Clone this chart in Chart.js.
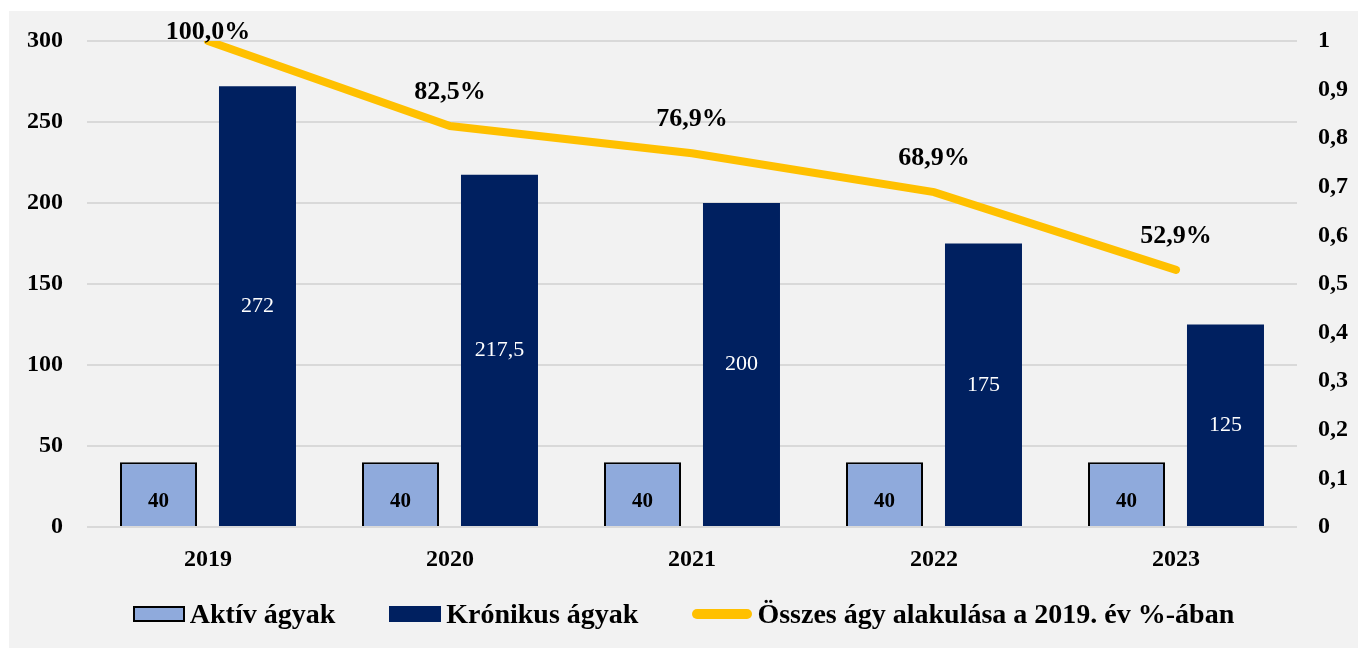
<!DOCTYPE html>
<html>
<head>
<meta charset="utf-8">
<script src="https://cdn.jsdelivr.net/npm/chart.js@4.4.1/dist/chart.umd.min.js"></script>
<style>
  body { margin: 0; background: #fff; }
  #wrap { position: absolute; left: 9px; top: 11px; width: 1349px; height: 637px; background: #f2f2f2; }
  #legend { position: absolute; left: 0; top: 587px; width: 1349px; display: flex; justify-content: center;
            font-family: 'Liberation Serif', serif; font-weight: bold; font-size: 28px; color: #000; }
  .item { display: flex; align-items: center; margin: 0 27px; }
  .sw { display: inline-block; margin-right: 5px; }
</style>
</head>
<body>
<div id="wrap">
  <canvas id="chart" width="1349" height="637"></canvas>
  <div id="legend"></div>
</div>
<script>
var years = ['2019', '2020', '2021', '2022', '2023'];
var aktiv = [40, 40, 40, 40, 40];
var kronikus = [272, 217.5, 200, 175, 125];
var osszesPct = [1.0, 0.825, 0.769, 0.689, 0.529];
var seriesNames = ['Aktív ágyak', 'Krónikus ágyak', 'Összes ágy alakulása a 2019. év %-ában'];

var font = "'Liberation Serif', serif";
var comma = function(v) { return String(v).replace('.', ','); };

// data labels for bars and line
var labelsPlugin = {
  id: 'labels',
  afterDatasetsDraw: function(chart) {
    var ctx = chart.ctx;
    ctx.save();
    ctx.textAlign = 'center';
    ctx.textBaseline = 'middle';
    chart.data.datasets.forEach(function(ds, i) {
      var meta = chart.getDatasetMeta(i);
      meta.data.forEach(function(el, j) {
        var v = ds.data[j];
        if (ds.type === 'line') {
          ctx.font = 'bold 26px ' + font;
          ctx.fillStyle = '#000';
          var y = Math.max(el.y - 34, chart.chartArea.top - 9);
          ctx.fillText((v * 100).toFixed(1).replace('.', ',') + '%', el.x, y);
        } else if (i === 0) {
          ctx.font = 'bold 21px ' + font;
          ctx.fillStyle = '#000';
          ctx.fillText(comma(v), el.x, (el.y + el.base) / 2 + 7);
        } else {
          ctx.font = '22px ' + font;
          ctx.fillStyle = '#fff';
          ctx.fillText(comma(v), el.x, (el.y + el.base) / 2);
        }
      });
    });
    ctx.restore();
  }
};

var fitY = function(w) {
  return function(s) { s.width = w; s.paddingTop = 0; s.paddingBottom = 0; };
};

var ctx = document.getElementById('chart');
var chart = new Chart(ctx, {
  data: {
    labels: years,
    datasets: [
      { type: 'bar', label: seriesNames[0], data: aktiv, backgroundColor: '#8faadc',
        borderColor: '#000', borderWidth: 2, yAxisID: 'y', order: 2 },
      { type: 'bar', label: seriesNames[1], data: kronikus, backgroundColor: '#002060',
        borderWidth: 0, yAxisID: 'y', order: 2 },
      { type: 'line', label: seriesNames[2], data: osszesPct, borderColor: '#ffc000',
        borderWidth: 8, borderCapStyle: 'round', pointRadius: 0, tension: 0, yAxisID: 'y2', order: 1 }
    ]
  },
  options: {
    responsive: false,
    animation: false,
    datasets: { bar: { categoryPercentage: 0.818, barPercentage: 0.778 } },
    layout: { padding: { top: 30, left: 0, right: 0, bottom: 0 } },
    plugins: { legend: { display: false }, tooltip: { enabled: false } },
    scales: {
      x: {
        grid: { display: false },
        border: { display: false },
        ticks: { font: { family: font, size: 24, weight: 'bold' }, color: '#000', padding: 10 },
        afterFit: function(s) { s.height = 121; s.paddingLeft = 0; s.paddingRight = 0; }
      },
      y: {
        position: 'left', min: 0, max: 300,
        ticks: { stepSize: 50, font: { family: font, size: 24, weight: 'bold' }, color: '#000', padding: 24 },
        grid: { color: '#d9d9d9', lineWidth: 2, drawTicks: false },
        border: { display: false },
        afterFit: fitY(78)
      },
      y2: {
        position: 'right', min: 0, max: 1,
        ticks: { stepSize: 0.1, font: { family: font, size: 24, weight: 'bold' }, color: '#000', padding: 21,
                 callback: function(v) { return comma(Math.round(v * 10) / 10); } },
        grid: { display: false, drawTicks: false },
        border: { display: false },
        afterFit: fitY(61)
      }
    }
  },
  plugins: [labelsPlugin]
});

// legend below the plot
var legend = document.getElementById('legend');
chart.data.datasets.forEach(function(ds) {
  var item = document.createElement('div');
  item.className = 'item';
  var sw = document.createElement('span');
  sw.className = 'sw';
  if (ds.type === 'line') {
    sw.style.cssText = 'width:60px;height:10px;border-radius:5px;background:' + ds.borderColor;
  } else {
    sw.style.cssText = 'width:52px;height:16px;box-sizing:border-box;background:' + ds.backgroundColor +
      ';border:' + (ds.borderWidth ? '2px solid #000' : 'none');
  }
  item.appendChild(sw);
  item.appendChild(document.createTextNode(ds.label));
  legend.appendChild(item);
});
</script>
</body>
</html>
